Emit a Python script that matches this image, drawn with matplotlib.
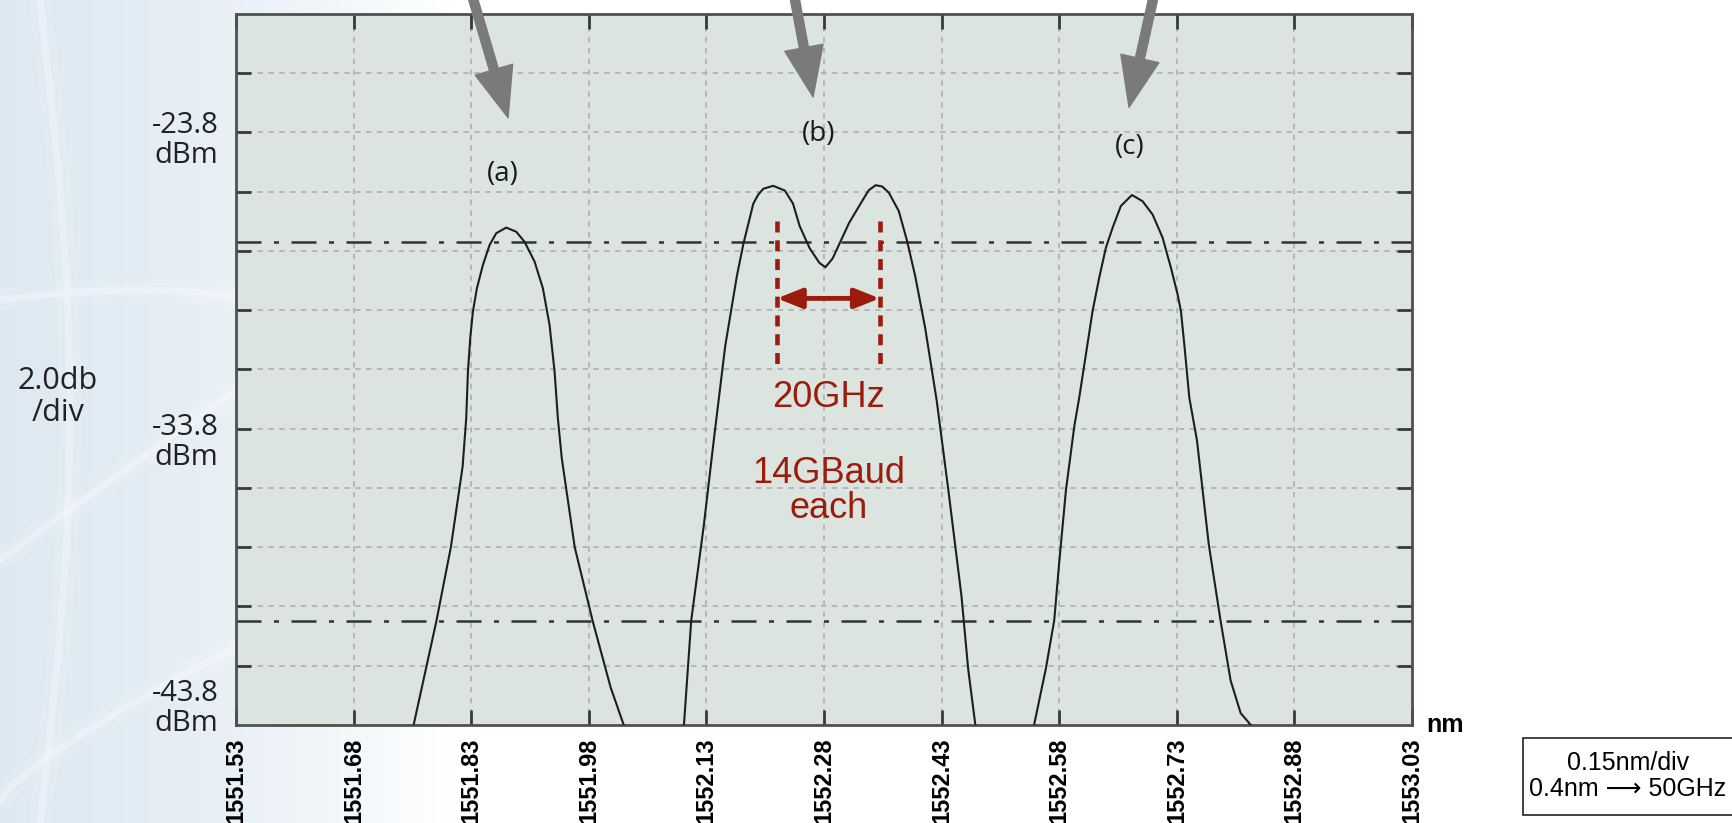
import numpy as np
import matplotlib.pyplot as plt
from matplotlib.patches import Rectangle

# wavelength ticks (nm) and power range (dBm)
x_ticks = [1551.53, 1551.68, 1551.83, 1551.98, 1552.13, 1552.28,
           1552.43, 1552.58, 1552.73, 1552.88, 1553.03]
y_ticks = [-41.8, -39.8, -37.8, -35.8, -33.8, -31.8, -29.8, -27.8, -25.8, -23.8, -21.8]
y_labels = {-23.8: "-23.8\ndBm", -33.8: "-33.8\ndBm", -43.8: "-43.8\ndBm"}
y_lo, y_hi = -43.8, -19.8
ref_levels = [-27.5, -40.3]

# spectrum (a)
a_nm = [1551.7565, 1551.7855, 1551.804, 1551.819, 1551.8236, 1551.8258, 1551.8287,
        1551.8321, 1551.8372, 1551.8449, 1551.8534, 1551.8619, 1551.8746, 1551.8874,
        1551.898, 1551.9108, 1551.9214, 1551.9299, 1551.9363, 1551.9405, 1551.9455,
        1551.962, 1551.985, 1552.0078, 1552.0245]
a_dbm = [-43.8, -40.3, -37.8, -35.08, -33.45, -31.87, -30.75,
         -29.85, -29.06, -28.27, -27.6, -27.2, -27.01, -27.15,
         -27.49, -28.16, -29.06, -30.3, -31.87, -33.45, -34.8,
         -37.8, -40.3, -42.53, -43.8]

# spectrum (b)
b_nm = [1552.1013, 1552.1106, 1552.1266, 1552.1393, 1552.154, 1552.1688, 1552.1772,
        1552.1898, 1552.196, 1552.2025, 1552.2151, 1552.23, 1552.2404, 1552.2488,
        1552.2615, 1552.274, 1552.2817, 1552.291, 1552.3015, 1552.312, 1552.3289,
        1552.337, 1552.3458, 1552.354, 1552.3626, 1552.3753, 1552.3858, 1552.3963,
        1552.409, 1552.4237, 1552.4385, 1552.4553, 1552.4638, 1552.473]
b_dbm = [-43.8, -40.27, -37.07, -34.2, -31.0, -28.65, -27.55,
         -26.2, -25.9, -25.7, -25.6, -25.76, -26.2, -26.95,
         -27.7, -28.2, -28.35, -28.05, -27.45, -26.85, -26.1,
         -25.75, -25.58, -25.62, -25.83, -26.45, -27.45, -28.65,
         -30.4, -32.85, -35.86, -39.45, -41.9, -43.8]

# spectrum (c)
c_nm = [1552.5479, 1552.5629, 1552.5736, 1552.58, 1552.5886, 1552.5993, 1552.6055,
        1552.614, 1552.6225, 1552.631, 1552.6395, 1552.648, 1552.6586, 1552.6727,
        1552.6863, 1552.6991, 1552.7118, 1552.7225, 1552.731, 1552.7352, 1552.7395,
        1552.7459, 1552.7557, 1552.7707, 1552.7857, 1552.7986, 1552.8114, 1552.8243]
c_dbm = [-43.8, -41.9, -40.27, -38.3, -35.86, -33.7, -32.75,
         -31.29, -29.83, -28.7, -27.69, -27.02, -26.28, -25.91,
         -26.12, -26.57, -27.35, -28.37, -29.27, -29.83, -30.95,
         -32.75, -34.2, -37.7, -40.27, -42.3, -43.4, -43.8]

# annotation values
spacing_nm = [1552.220, 1552.351]
spacing_span = [-26.8, -31.65]
spacing_arrow_y = -29.4
labels = ["(a)", "(b)", "(c)"]
label_nm = [1551.87, 1552.273, 1552.670]
label_dbm = [-25.2, -23.85, -24.3]
arrow_tip = [(1551.877, -23.3), (1552.266, -22.6), (1552.669, -22.95)]
arrow_tail = [(1551.828, -18.9), (1552.240, -18.9), (1552.703, -18.9)]

red = "#9b1c0c"
W, H = 1733, 823

fig = plt.figure(figsize=(17.33, 8.23), dpi=100)

# light blue backdrop on the left, with a few soft streaks
bg = fig.add_axes([0, 0, 1, 1], zorder=-10)
bg.axis("off")
xs = np.linspace(0, W, 600)
t = np.clip(xs / 450.0, 0, 1) ** 1.6
left_col = np.array([0.87, 0.915, 0.95])
img = left_col[None, :] * (1 - t[:, None]) + np.ones(3)[None, :] * t[:, None]
bg.imshow(img[None, :, :], aspect="auto", extent=[0, W, 0, H])
bg.set_xlim(0, W)
bg.set_ylim(H, 0)
s = np.linspace(0, 1, 50)
streaks = [
    (40 + 30 * np.sin(np.pi * s), s * H),
    (s * 270, 300 - 10 * np.sin(np.pi * s)),
    (s * 330, 800 - 200 * s ** 0.8),
    (s * 250, 560 - 180 * s),
]
for sx, sy in streaks:
    bg.plot(sx, sy, color="white", lw=16, alpha=0.12, solid_capstyle="round")
    bg.plot(sx, sy, color="white", lw=5, alpha=0.3, solid_capstyle="round")

ax = fig.add_axes([0.1362, 0.1191, 0.6786, 0.8639])
ax.set_facecolor("#dbe4de")

for lvl in ref_levels:
    ax.axhline(lvl, color="#333333", lw=1.8, ls=(0, (10, 5, 2, 5)), zorder=2)

for xs_, ys_ in [(a_nm, a_dbm), (b_nm, b_dbm), (c_nm, c_dbm)]:
    ax.plot(xs_, ys_, color="#1e1e1e", lw=1.5, zorder=3)

ax.set_xlim(x_ticks[0], x_ticks[-1])
ax.set_ylim(y_lo, y_hi)
ax.set_xticks(x_ticks)
ax.set_xticklabels([f"{v:.2f}" for v in x_ticks], rotation=90,
                   fontfamily="Liberation Sans", fontweight="bold", fontsize=17)
ax.set_yticks(y_ticks)
ax.set_yticklabels([])
ax.tick_params(direction="in", length=11, width=2, color="#3a3a3a",
               top=True, right=True, pad=9)
ax.grid(True, color="#b3b3b3", lw=1.3, ls=(0, (3, 3)), zorder=1)
for sp in ax.spines.values():
    sp.set_color("#505050")
    sp.set_linewidth(2)

# y labels
ytr = ax.get_yaxis_transform()
offsets = {-23.8: -0.27, -33.8: -0.47, -43.8: 0.57}
for v, txt in y_labels.items():
    ax.text(-0.015, v + offsets[v], txt, transform=ytr, ha="right", va="center",
            fontfamily="Open Sans", fontsize=21, color="#222222", linespacing=1.05)
fig.text(58 / W, 1 - 397 / H, "2.0db\n/div", ha="center", va="center",
         fontfamily="Open Sans", fontsize=22, color="#222222", linespacing=1.05)

ax.text(1.012, 0.0, "nm", transform=ax.transAxes, ha="left", va="center",
        fontfamily="Liberation Sans", fontweight="bold", fontsize=18)

# spacing marker
for xv in spacing_nm:
    ax.plot([xv, xv], spacing_span, color=red, lw=3.3, ls=(0, (2.4, 1.7)), zorder=4)
ax.annotate("", xy=(spacing_nm[0], spacing_arrow_y), xytext=(spacing_nm[1], spacing_arrow_y),
            arrowprops=dict(arrowstyle="<|-|>,head_length=1.5,head_width=0.6",
                            color=red, lw=3.5, shrinkA=0, shrinkB=0), zorder=4)
ax.text(np.mean(spacing_nm), -32.75, "20GHz", color=red, ha="center", va="center",
        fontfamily="Liberation Sans", fontsize=26)
ax.text(np.mean(spacing_nm), -35.9, "14GBaud\neach", color=red, ha="center", va="center",
        fontfamily="Liberation Sans", fontsize=26, linespacing=1.0)

# labels and arrows
for lab, lx, ly in zip(labels, label_nm, label_dbm):
    ax.text(lx, ly, lab, ha="center", va="center", fontfamily="Open Sans",
            fontsize=20, color="#1a1a1a")
for tip, tail in zip(arrow_tip, arrow_tail):
    ax.annotate("", xy=tip, xytext=tail, annotation_clip=False,
                arrowprops=dict(facecolor="#7a7a7a", edgecolor="#7a7a7a",
                                width=6.5, headwidth=28, headlength=36, shrink=0),
                zorder=5)

# scale note box
fig.patches.append(Rectangle((1523 / W, 1 - 815 / H), 0.2, 77 / H,
                             transform=fig.transFigure, facecolor="white",
                             edgecolor="#222222", lw=1.2))
fig.text(1628 / W, 1 - 776 / H, "0.15nm/div\n0.4nm \u27f6 50GHz", ha="center",
         va="center", fontfamily=["Liberation Sans", "DejaVu Sans"], fontsize=18,
         linespacing=1.1)

fig.savefig("out.png", dpi=100)
